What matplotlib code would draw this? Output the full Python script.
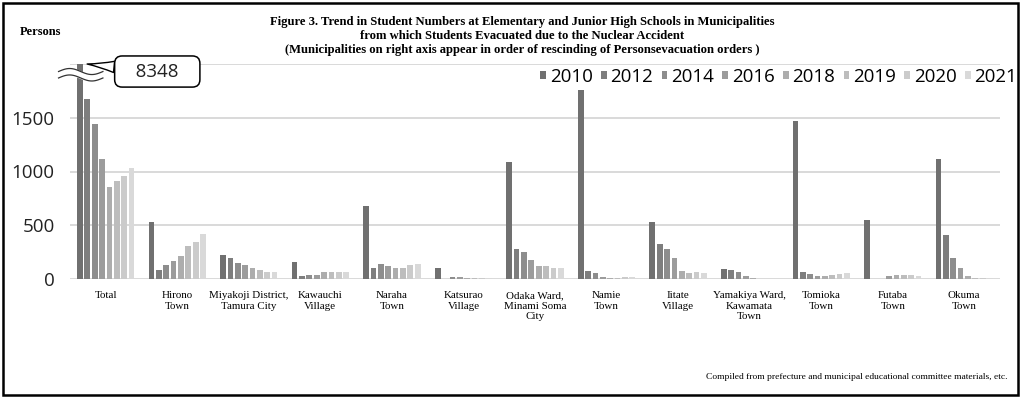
import numpy as np
import matplotlib.pyplot as plt
from matplotlib.patches import Rectangle

# data (Total 2010 is 8348, drawn cut at 2000)
towns = ['Total', 'Hirono\nTown', 'Miyakoji District,\nTamura City', 'Kawauchi\nVillage',
         'Naraha\nTown', 'Katsurao\nVillage', 'Odaka Ward,\nMinami Soma\nCity', 'Namie\nTown',
         'Iitate\nVillage', 'Yamakiya Ward,\nKawamata\nTown', 'Tomioka\nTown', 'Futaba\nTown',
         'Okuma\nTown']
years = ['2010', '2012', '2014', '2016', '2018', '2019', '2020', '2021']

v2010 = [2000, 529, 224, 158, 683, 106, 1093, 1762, 528, 93, 1474, 548, 1115]
v2012 = [1675, 80, 196, 25, 99, 0, 276, 77, 329, 81, 62, 0, 412]
v2014 = [1443, 133, 152, 40, 143, 15, 254, 60, 283, 68, 46, 0, 195]
v2016 = [1118, 170, 130, 40, 121, 15, 180, 23, 196, 31, 25, 25, 105]
v2018 = [854, 214, 106, 62, 99, 10, 121, 9, 71, 12, 31, 37, 25]
v2019 = [907, 310, 87, 62, 106, 10, 121, 9, 53, 0, 40, 37, 12]
v2020 = [960, 347, 68, 68, 130, 8, 105, 23, 62, 0, 50, 37, 9]
v2021 = [1031, 421, 68, 68, 143, 8, 105, 23, 53, 0, 56, 31, 9]
total_2010 = 8348

series = [v2010, v2012, v2014, v2016, v2018, v2019, v2020, v2021]
colors = ['#707070', '#7e7e7e', '#8d8d8d', '#9c9c9c', '#adadad', '#bdbdbd', '#cbcbcb', '#d9d9d9']

fig = plt.figure(figsize=(10.24, 3.98), dpi=100)
ax = fig.add_axes([70/1024, 119/398, 930/1024, 215/398])

x = np.arange(len(towns))
step = 0.103
for i, vals in enumerate(series):
    ax.bar(x + (i - 3.5)*step, vals, width=0.08, color=colors[i], label=years[i], zorder=3)

ax.set_xlim(-0.5, len(towns) - 0.5)
ax.set_ylim(0, 2000)
ax.set_yticks([0, 500, 1000, 1500, 2000])
ax.set_yticklabels(['0', '500', '1000', '1500', ''], fontsize=13.5, family='Open Sans', color='#222222')
ax.tick_params(axis='y', length=0, pad=11)
ax.set_xticks(x)
ax.set_xticklabels(towns, fontsize=7.9, family='Liberation Serif', linespacing=1.2)
ax.tick_params(axis='x', length=0, pad=9)
ax.grid(axis='y', color='#d9d9d9', lw=1.4, zorder=0)
for s in ax.spines.values():
    s.set_visible(False)

# break marks on the cut Total bar
x0 = x[0] - 3.5*step
wx = np.linspace(-0.66, -0.04, 60)
wave = 28*np.sin((wx + 0.66)/0.62*2*np.pi)
ax.fill_between(wx, 1870 + wave, 1930 + wave, color='white', zorder=4, clip_on=False)
ax.plot(wx, 1870 + wave, color='#333333', lw=0.9, zorder=5, clip_on=False)
ax.plot(wx, 1930 + wave, color='#333333', lw=0.9, zorder=5, clip_on=False)

ax.annotate('   ' + str(total_2010) + '   ', xy=(x0 + 0.1, 2000), xytext=(0.72, 1930),
            ha='center', va='center', fontsize=13.5, family='Open Sans', color='#222222',
            annotation_clip=False, zorder=6,
            bbox=dict(boxstyle='round,pad=0.35,rounding_size=0.4', fc='white', ec='black', lw=1.1),
            arrowprops=dict(arrowstyle='wedge,tail_width=0.6,shrink_factor=0.4', fc='white',
                            ec='black', lw=1.0, shrinkA=0, shrinkB=0))

fig.legend(loc='center right', bbox_to_anchor=(1017/1024, 1 - 77/398), ncol=8, frameon=False,
           prop={'family': 'Open Sans', 'size': 13.5}, handlelength=0.3, handleheight=0.3,
           handletextpad=0.2, columnspacing=0.45, borderaxespad=0, borderpad=0)

fig.text(522/1024, 1 - 16/398,
         'Figure 3. Trend in Student Numbers at Elementary and Junior High Schools in Municipalities\n'
         'from which Students Evacuated due to the Nuclear Accident\n'
         '(Municipalities on right axis appear in order of rescinding of Personsevacuation orders )',
         ha='center', va='top', fontsize=9.1, family='Liberation Serif', weight='bold',
         linespacing=1.2)
fig.text(20/1024, 1 - 32/398, 'Persons', ha='left', va='center', fontsize=9,
         family='Liberation Serif', weight='bold')
fig.text(1007/1024, 1 - 377/398,
         'Compiled from prefecture and municipal educational committee materials, etc.',
         ha='right', va='center', fontsize=6.8, family='Liberation Serif')

fig.patches.append(Rectangle((3/1024, 3/398), 1015/1024, 392/398, transform=fig.transFigure,
                             fill=False, ec='black', lw=1.8))

fig.savefig('out.png', dpi=100)
